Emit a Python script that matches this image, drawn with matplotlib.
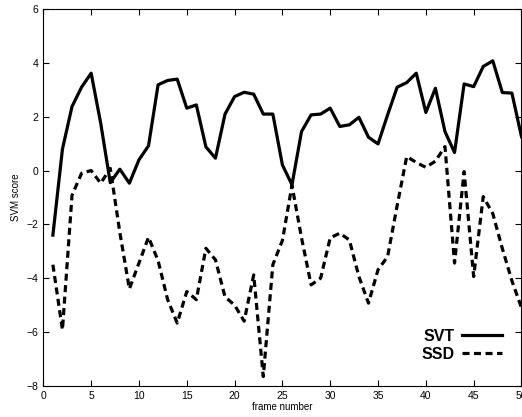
import numpy as np
import matplotlib.pyplot as plt

plt.rcParams['font.family'] = ['Liberation Sans', 'DejaVu Sans']

frames = np.arange(1, 51)

svt = [-2.4, 0.8, 2.38, 3.1, 3.62, 1.76, -0.45, 0.05, -0.47, 0.4,
       0.92, 3.19, 3.35, 3.4, 2.32, 2.44, 0.88, 0.46, 2.1, 2.75,
       2.91, 2.84, 2.1, 2.1, 0.21, -0.53, 1.45, 2.07, 2.1, 2.32,
       1.64, 1.7, 1.98, 1.24, 0.99, 2.07, 3.1, 3.27, 3.62, 2.16,
       3.06, 1.45, 0.67, 3.22, 3.12, 3.87, 4.08, 2.9, 2.88, 1.26]

ssd = [-3.5, -5.92, -0.92, -0.1, 0.0, -0.47, 0.08, -2.3, -4.4, -3.44,
       -2.48, -3.35, -4.8, -5.67, -4.5, -4.8, -2.89, -3.32, -4.7, -5.0,
       -5.6, -3.88, -7.66, -3.5, -2.6, -0.55, -2.5, -4.25, -4.0, -2.5,
       -2.33, -2.58, -3.94, -4.93, -3.69, -3.2, -1.3, 0.52, 0.3, 0.12,
       0.35, 0.89, -3.44, -0.04, -3.94, -0.97, -1.6, -2.9, -4.1, -5.1]

fig = plt.figure(figsize=(5.22, 4.17), dpi=100)
ax = fig.add_axes([0.083, 0.075, 0.916, 0.903])

ax.plot(frames, svt, color='black', lw=2.3, label='SVT')
ax.plot(frames, ssd, color='black', lw=2.3, linestyle=(0, (2.2, 1.4)), label='SSD')

ax.set_xlim(0, 50)
ax.set_ylim(-8, 6)
ax.set_xticks(np.arange(0, 51, 5))
ax.set_yticks(np.arange(-8, 7, 2))
ax.tick_params(direction='in', top=True, right=True, labelsize=7.5,
               length=4, width=0.8)
for s in ax.spines.values():
    s.set_linewidth(0.8)

ax.set_xlabel('frame number', fontsize=7, labelpad=1)
ax.set_ylabel('SVM score', fontsize=7, labelpad=4)

leg = ax.legend(loc='lower right', bbox_to_anchor=(0.99, 0.025), frameon=False,
                markerfirst=False, handlelength=2.5, handletextpad=0.5,
                labelspacing=0.2, prop={'weight': 'bold', 'size': 11.5})

fig.savefig('out.png', dpi=100)
